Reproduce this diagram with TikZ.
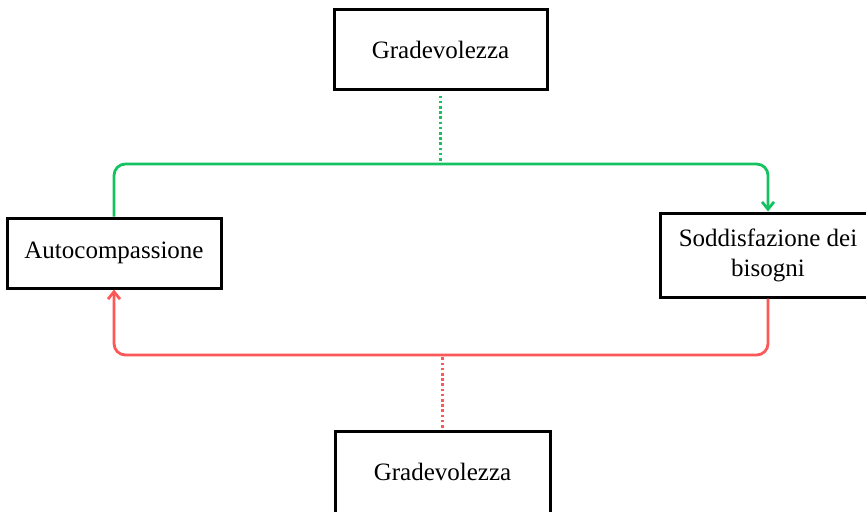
\documentclass[tikz,border=0pt]{standalone}
\usepackage{fontspec}
\setmainfont{Liberation Serif}
\usetikzlibrary{
  arrows.meta,
  positioning,  % Function "of" (e.g. [right=of x])
  calc,         % Calculations $...$
}
\definecolor{posgreen}{RGB}{20,195,95}
\definecolor{negred}{RGB}{252,88,88}
\tikzset{
  font=\fontsize{25}{30}\selectfont,
  >={Straight Barb[length=2.6mm,width=4.2mm]},
  my box/.style={
    draw,
    line width=3pt,
    inner sep=1mm,
    align=center,
    rectangle
  },
  pos line/.style={
    draw=posgreen,
    line width=2.8pt,
    rounded corners=4mm
  },
  neg line/.style={
    draw=negred,
    line width=2.8pt,
    rounded corners=4mm
  },
  link dotted/.style={
    line width=2.8pt,
    dash pattern=on 2.6pt off 2.6pt
  }
}

\begin{document}
\begin{tikzpicture}[x=1pt,y=-1pt]
\useasboundingbox (0,0) rectangle (866,511);
\node[my box,minimum width=213pt,minimum height=79pt] (grad1) at (440.5,49.5) {Gradevolezza};
\node[my box,minimum width=214pt,minimum height=70pt] (auto) at (114,253) {Autocompassione};
\node[my box,minimum width=216pt,minimum height=84pt] (sodd) at (768,255) {Soddisfazione dei\\bisogni};
\node[my box,minimum width=215pt,minimum height=82pt] (grad2) at (442.5,472) {Gradevolezza};
\coordinate (gtop) at (0,164);
\coordinate (rbot) at (0,355);
% positive loop
\draw[pos line,->] (auto.north) |- (gtop -| sodd.north) -- (sodd.north);
\draw[posgreen,link dotted,shorten <=5pt] (grad1.south) -- (grad1.south |- gtop);
% negative loop
\draw[neg line,->] (sodd.south) |- (rbot -| auto.south) -- (auto.south);
\draw[negred,link dotted,shorten >=2pt,shorten <=2pt] (grad2.north) -- (grad2.north |- rbot);
\end{tikzpicture}
\end{document}
